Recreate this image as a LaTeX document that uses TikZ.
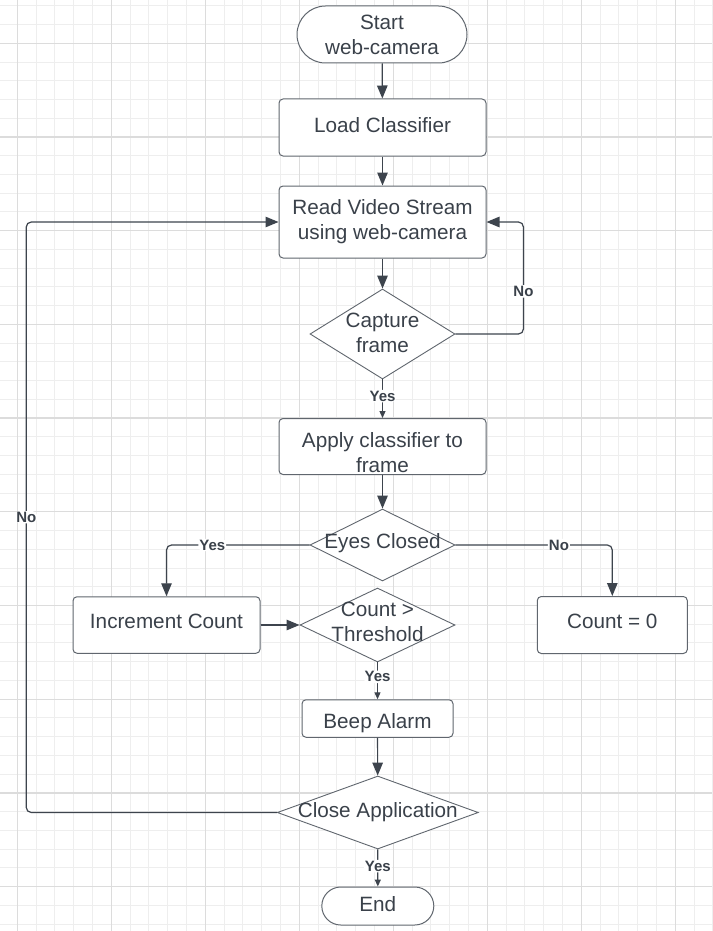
\documentclass[tikz,border=0pt]{standalone}
\usepackage{fontspec}
\setmainfont{Liberation Sans}
\usetikzlibrary{shapes.geometric,shapes.misc,arrows.meta}

\definecolor{ink}{HTML}{3A414A}
\definecolor{edgegray}{HTML}{60666E}
\definecolor{linegray}{HTML}{3D444D}
\definecolor{gridminor}{HTML}{EEEEEE}
\definecolor{gridmajor}{HTML}{DCDCDC}

% text kept out of the shape's size
\newcommand{\dtext}[2][-4pt]{\makebox[0pt]{\smash{\raisebox{#1}{\begin{tabular}{@{}c@{}}#2\end{tabular}}}}}

\tikzset{
  terminal/.style={rounded rectangle,draw=edgegray,fill=white,line width=1pt,align=center,inner sep=0pt},
  process/.style={rectangle,rounded corners=4pt,draw=edgegray,fill=white,line width=1pt,align=center,inner sep=0pt,minimum width=207pt,minimum height=57pt},
  decision/.style={diamond,draw=edgegray,fill=white,line width=0.9pt,inner sep=0pt},
  flow/.style={draw=linegray,line width=1.2pt,rounded corners=5pt,-{Triangle[length=13pt,width=10.5pt]}},
  shortflow/.style={flow,-{Triangle[length=7pt,width=6pt]}},
  lbl/.style={fill=white,inner sep=1pt,font=\fontsize{15}{18}\selectfont\bfseries}
}

\begin{document}
\begin{tikzpicture}
        [x=1pt,y=-1pt,every node/.style={font=\fontsize{20.7}{25}\selectfont,text=ink}]
        \useasboundingbox (0,0) rectangle (712,931);
        \fill[white] (0,0) rectangle (712,931);
        %Grid
        \foreach \i in {0,...,37}
            \draw[gridminor,line width=1pt] ({17.3+18.8*\i},0) -- ({17.3+18.8*\i},931);
        \foreach \j in {0,...,49}
            \draw[gridminor,line width=1pt] (0,{5.8+18.74*\j}) -- (712,{5.8+18.74*\j});
        \foreach \i in {0,...,7}
            \draw[gridmajor,line width=1.3pt] ({17.3+94*\i},0) -- ({17.3+94*\i},931);
        \foreach \j in {0,...,9}
            \draw[gridmajor,line width=1.3pt] (0,{43.3+93.7*\j}) -- (712,{43.3+93.7*\j});

        %Main column
        \node[terminal,minimum width=170pt,minimum height=57pt] (start) at (382,34.5) {Start\\web-camera};
        \node[process,text depth=5.5pt] (load) at (382.5,127.5) {Load Classifier};
        \node[process,minimum height=72pt] (read) at (382.5,222) {Read Video Stream\\using web-camera};
        \node[decision,minimum width=145pt,minimum height=90pt] (capture) at (382.5,334) {\dtext[-6pt]{Capture\\frame}};
        \node[process,minimum height=56pt] (apply) at (382.5,446.5) {\dtext[-13.5pt]{Apply classifier to\\frame}};
        \node[decision,minimum width=145pt,minimum height=72pt] (eyes) at (382.5,545) {\dtext{Eyes Closed}};
        \node[decision,minimum width=155pt,minimum height=74pt] (count) at (377.5,625) {\dtext{Count >\\Threshold}};
        \node[process,minimum width=151pt,minimum height=37.5pt,text height=24pt] (beep) at (377.5,718.5) {Beep Alarm};
        \node[decision,minimum width=201pt,minimum height=73pt] (close) at (377.8,812.5) {\dtext[-5pt]{Close Application}};
        \node[terminal,minimum width=112pt,minimum height=38pt,text depth=5pt] (end) at (377.8,906) {End};
        %Side boxes
        \node[process,minimum width=187pt,minimum height=56.5pt,text depth=7pt] (incr) at (166.5,625) {Increment Count};
        \node[process,minimum width=150pt,minimum height=57pt,text depth=7pt] (zero) at (612.3,625) {Count = 0};

        \draw[flow] (start) -- (load);
        \draw[flow] (load) -- (read);
        \draw[flow] (read) -- (capture);
        \draw[shortflow] (capture) -- node[lbl,pos=0.43] {Yes} (apply);
        \draw[flow] (capture.east) -- ++(68,0) |- node[lbl,pos=0.19] {No} (read.east);
        \draw[flow] (apply) -- (eyes);
        \draw[flow] (eyes.west) -| node[lbl,pos=0.34] {Yes} (incr.north);
        \draw[flow] (eyes.east) -| node[lbl,pos=0.33] {No} (zero.north);
        \draw[flow] (incr) -- (count.west);
        \draw[shortflow] (count) -- node[lbl,pos=0.39] {Yes} (beep);
        \draw[flow] (beep) -- (close);
        \draw[flow] (close.west) -- ++(-250.6,0) |- node[lbl,pos=0.25] {No} (read.west);
        \draw[shortflow] (close) -- node[lbl,pos=0.45] {Yes} (end);
    \end{tikzpicture}
\end{document}
